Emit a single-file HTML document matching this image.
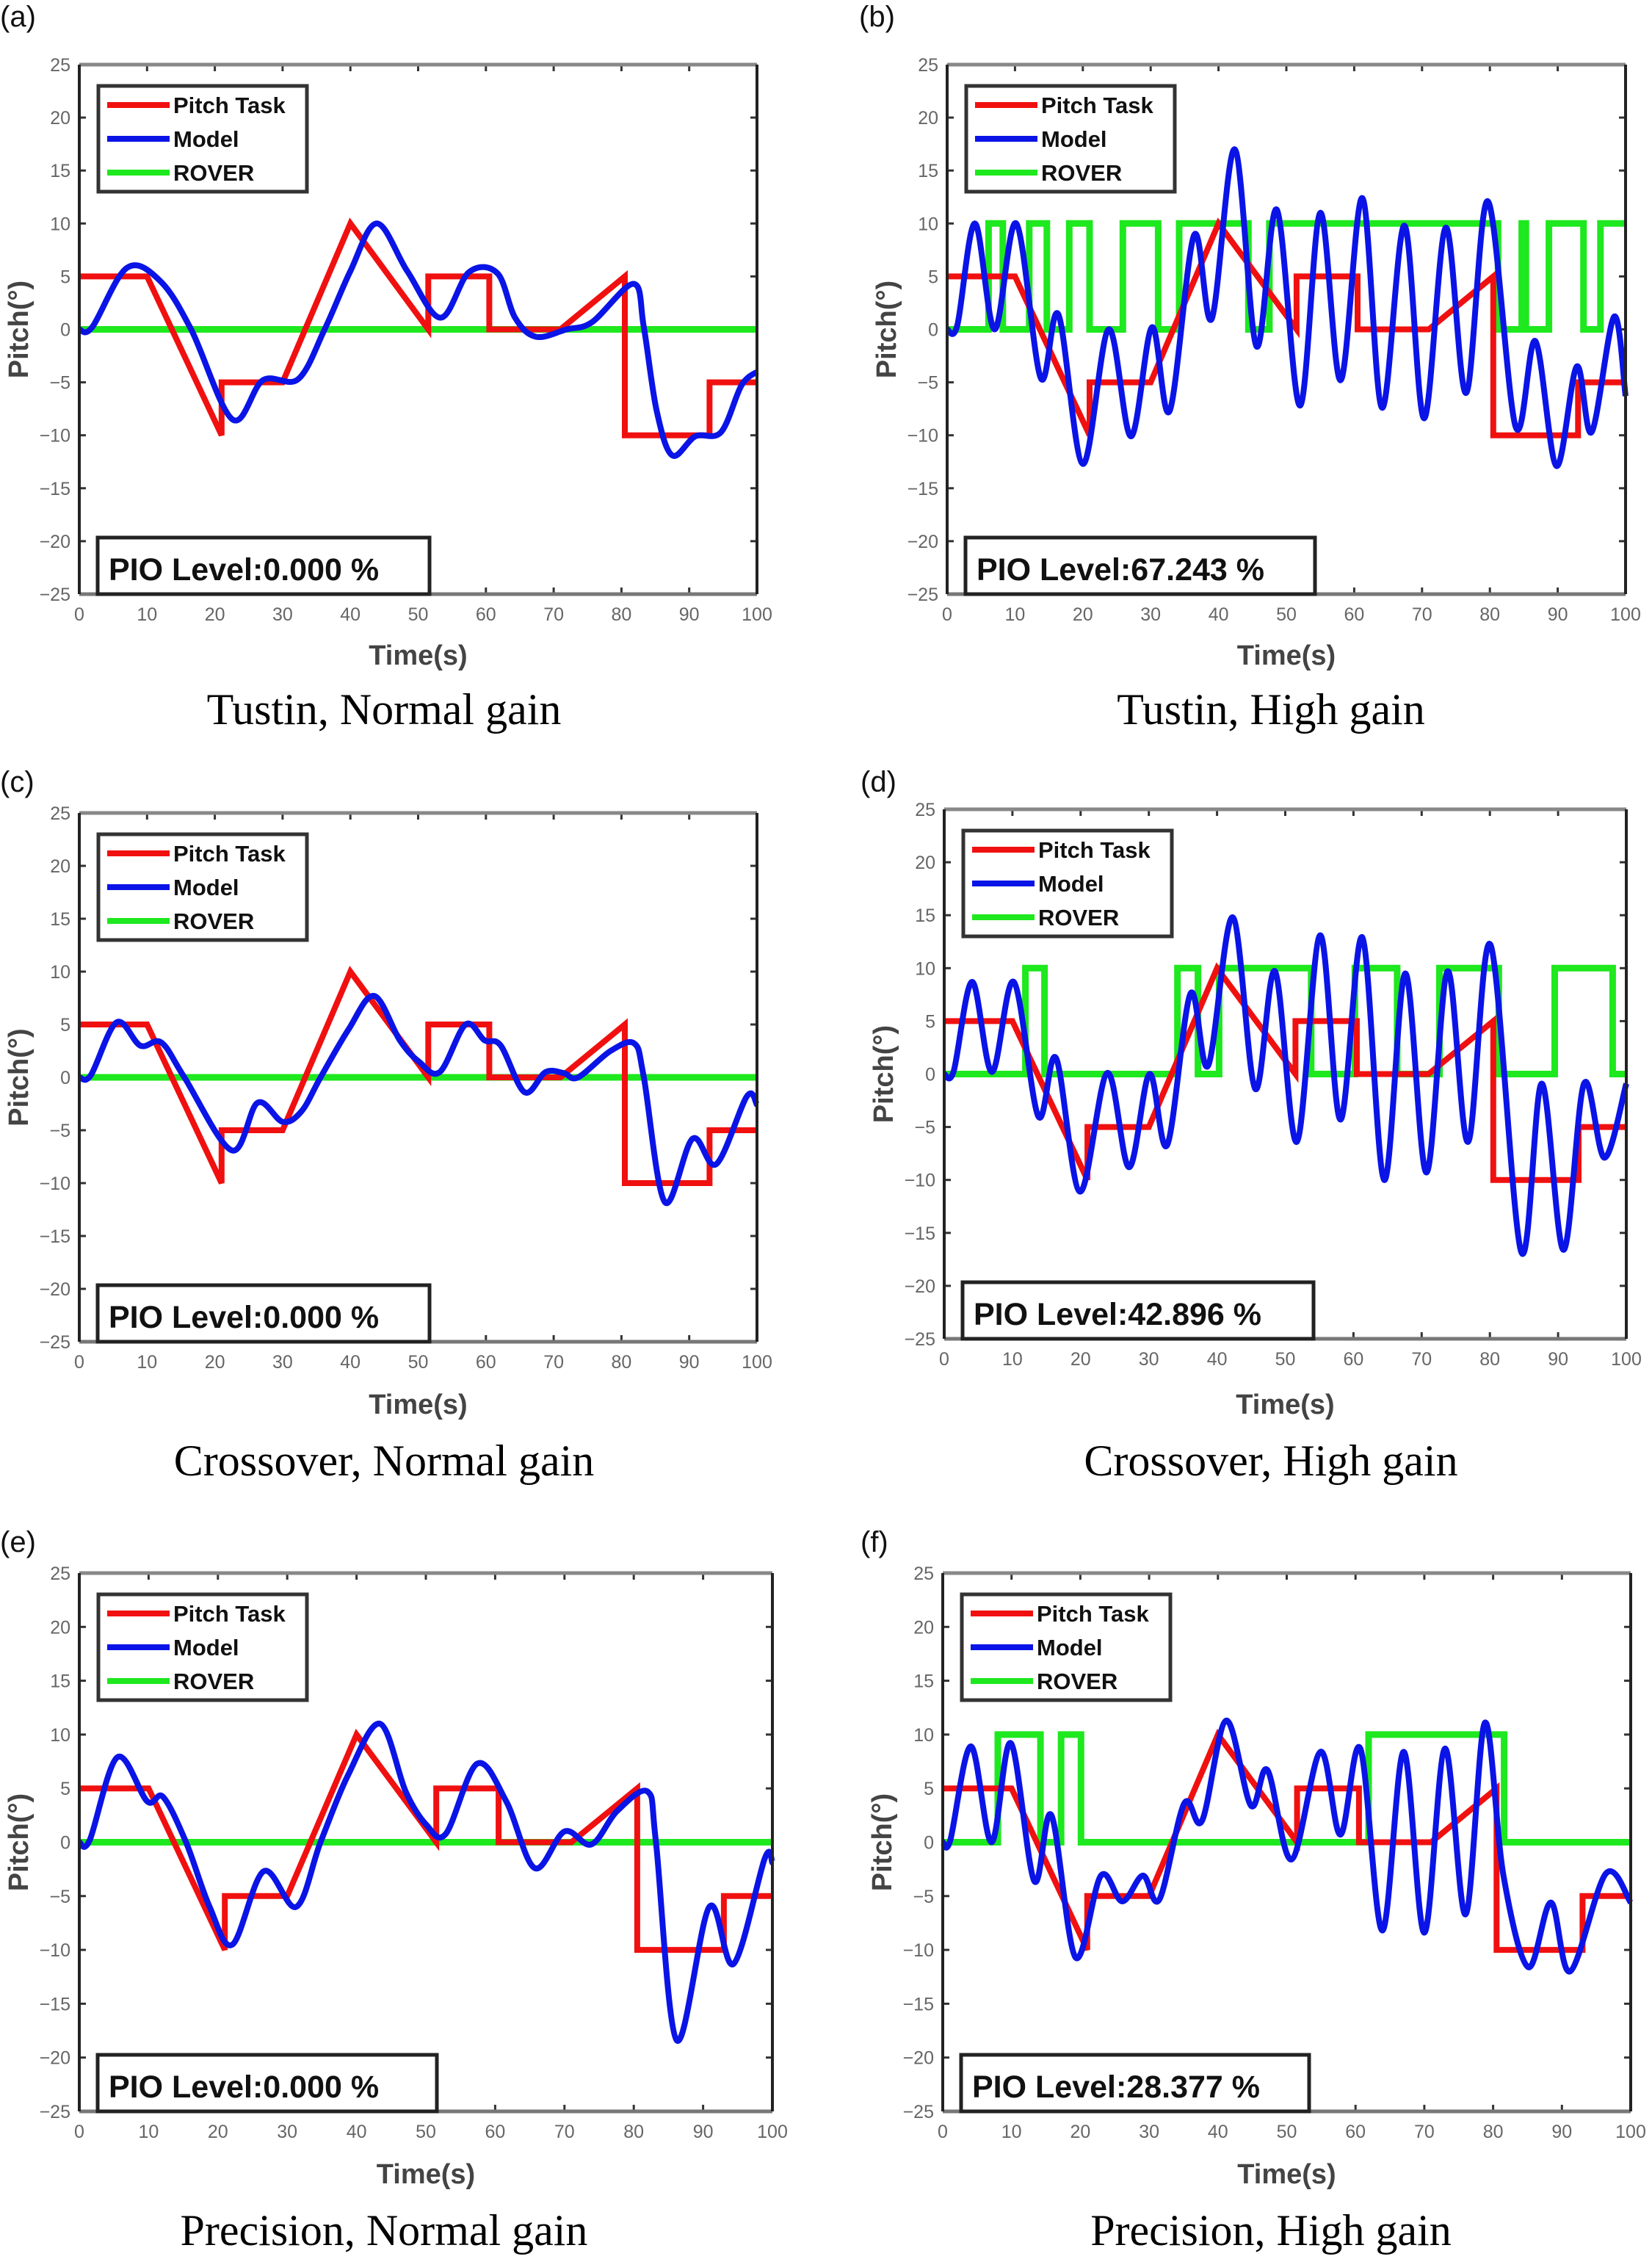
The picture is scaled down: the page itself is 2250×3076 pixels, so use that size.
<!DOCTYPE html>
<html><head><meta charset="utf-8"><style>
html,body{margin:0;padding:0;background:#fff;}
svg{display:block;}
</style></head><body>
<svg id="fig" xmlns="http://www.w3.org/2000/svg" width="2250" height="3076" viewBox="0 0 2250 3076"></svg>
<script>
// ---- shared pitch task ----
const taskT = [0,10,21,21,30,40,51.5,51.5,60.5,60.5,71,80.5,80.5,93,93,100];
const taskV = [5,5,-10,-5,-5,10,0,5,5,0,0,5,-10,-10,-5,-5];
const yTicks = [25,20,15,10,5,0,-5,-10,-15,-20,-25];
const xTicks = [0,10,20,30,40,50,60,70,80,90,100];
// ---- model series (a..f) ----
const modelAT = [0,1.9,7,11.9,16.5,22.6,27.1,32.3,36.2,40,43.9,48.4,53.3,57.5,61.7,64.3,67.4,71.9,75.7,81.8,83.3,85.2,87.5,90.9,94.7,97.7,100];
const modelAV = [0,0.2,5.8,4.6,0,-8.5,-4.8,-4.7,0,5.5,10,5.5,1.1,5.4,5.3,1.1,-0.7,0,0.7,4.3,0.2,-7.7,-11.9,-10.1,-9.7,-5.3,-4];
const modelBT = [0,1.5,4.1,7,10.2,13.8,16.4,20,23.8,27.1,30.2,32.8,36.4,39,42.4,45.6,48.6,52,55,58,61.2,64.1,67.4,70.3,73.5,76.5,79.7,83.8,86.7,89.8,92.8,95,98.3,100];
const modelBV = [0,0.4,10,0,10,-4.6,1.4,-12.7,0,-10.1,0.2,-7.7,8.9,1,17,-1.6,11.3,-7.2,11,-4.8,12.4,-7.4,9.8,-8.4,9.6,-6,12.1,-9.2,-1.1,-12.9,-3.5,-9.7,1.2,-6.3];
const modelCT = [0,1.7,5.5,9,12.1,15.5,22.5,26.3,30,32.8,35.6,39.7,43.5,47.3,50.1,53.2,57,59.8,62.2,65.7,68.8,71.5,73.6,78.4,81.9,83.3,86.4,90.5,94,98.5,100];
const modelCV = [0,0.2,5.2,3,3.3,0,-6.9,-2.4,-4.2,-3.2,0,4.5,7.7,3.5,1.5,0.5,5,3.5,3,-1.4,0.5,0.4,0,2.5,3.2,0,-11.8,-5.8,-8.2,-1.8,-2.6];
const modelDT = [0,1.4,4.1,7,10.2,13.8,16.4,19.9,23.9,27.1,30.1,32.7,36.1,38.7,42.3,45.6,48.5,51.7,55.1,58.1,61.3,64.5,67.6,70.7,73.8,76.8,80.1,84.6,87.6,90.8,93.8,96.8,100];
const modelDV = [0,0.3,8.7,0.2,8.7,-4,1.5,-11.1,0.1,-8.8,0,-6.7,7.6,0.8,14.8,-1.4,9.7,-6.4,13.1,-4.3,12.9,-10,9.5,-9.3,9.7,-6.4,12.2,-16.8,-0.9,-16.6,-0.9,-7.9,-0.9];
const modelET = [0,1.5,5.5,9.8,12.1,15.4,18.8,22.1,26.6,31.3,34.8,38.9,43.4,47.1,50.1,52.9,57.4,61.6,65.7,70,73.9,77.6,82,83.2,86.2,90.9,94.4,98.9,100];
const modelEV = [0,0.2,7.9,3.8,4.2,0,-6,-9.5,-2.7,-6,0,6.4,11,4.7,1.6,0.8,7.3,3.8,-2.4,1,-0.2,2.9,4.7,0,-18.4,-6,-11.3,-1.5,-1.9];
const modelFT = [0,1.1,4.1,7.1,9.9,13.3,15.8,19.3,23,26.1,29.1,31.5,35.1,37.7,41.2,44.8,47.2,50.7,54.9,57.8,60.7,63.9,67,70,73,76,78.8,81.5,85.1,88.4,91.2,96.4,100];
const modelFV = [0,0.2,8.9,0,9.2,-3.6,2.5,-10.7,-3.1,-5.5,-3.1,-5.3,3.6,2,11.3,3.4,6.7,-1.6,8.4,0.7,8.7,-8.2,8.4,-8.4,8.7,-6.7,11.1,-3.1,-11.6,-5.6,-12,-2.9,-5.6];
// ---- ROVER switching times (starts at 0, toggles 0<->10) ----
const roverAT = [];
const roverBT = [6.1,8.2,12.1,14.7,18,21,25.9,31.1,34.2,44.4,47.5,81.2,84.7,85.3,88.7,93.8,96.3];
const roverCT = [];
const roverDT = [11.9,14.7,34.2,37.2,40.3,53.8,60.2,66.4,72.6,81.3,89.5,98];
const roverET = [];
const roverFT = [8,14.2,17.2,20.1,61.9,81.6];
const pioValues = ["0.000","67.243","0.000","42.896","0.000","28.377"];
const captions = ["Tustin, Normal gain","Tustin, High gain","Crossover, Normal gain","Crossover, High gain","Precision, Normal gain","Precision, High gain"];

const panels = [
 {id:'a',x0:108,x1:1031,y0:88,y1:809,lx:0,ly:36,capX:523,capY:986,timeY:905,mt:modelAT,mv:modelAV,rv:roverAT,pw:452},
 {id:'b',x0:1290,x1:2214,y0:88,y1:809,lx:1170,ly:36,capX:1731,capY:986,timeY:905,mt:modelBT,mv:modelBV,rv:roverBT,pw:476},
 {id:'c',x0:108,x1:1031,y0:1107,y1:1827,lx:0,ly:1078,capX:523,capY:2009,timeY:1925,mt:modelCT,mv:modelCV,rv:roverCT,pw:452},
 {id:'d',x0:1286,x1:2215,y0:1102,y1:1823,lx:1172,ly:1078,capX:1731,capY:2009,timeY:1925,mt:modelDT,mv:modelDV,rv:roverDT,pw:478},
 {id:'e',x0:108,x1:1052,y0:2142,y1:2875,lx:0,ly:2113,capX:523,capY:3057,timeY:2973,mt:modelET,mv:modelEV,rv:roverET,pw:462},
 {id:'f',x0:1284,x1:2221,y0:2142,y1:2875,lx:1172,ly:2113,capX:1731,capY:3057,timeY:2973,mt:modelFT,mv:modelFV,rv:roverFT,pw:474}
];
const NS='http://www.w3.org/2000/svg';
const svg=document.getElementById('fig');
function mk(tag,attrs,parent){const e=document.createElementNS(NS,tag);for(const k in attrs)e.setAttribute(k,attrs[k]);(parent||svg).appendChild(e);return e;}
function smooth(pts){
  let d='M'+pts[0][0].toFixed(1)+','+pts[0][1].toFixed(1);
  for(let i=0;i<pts.length-1;i++){
    const p0=pts[Math.max(0,i-1)],p1=pts[i],p2=pts[i+1],p3=pts[Math.min(pts.length-1,i+2)];
    const c1x=p1[0]+(p2[0]-p0[0])/6,c1y=p1[1]+(p2[1]-p0[1])/6;
    const c2x=p2[0]-(p3[0]-p1[0])/6,c2y=p2[1]-(p3[1]-p1[1])/6;
    d+=' C'+c1x.toFixed(1)+','+c1y.toFixed(1)+' '+c2x.toFixed(1)+','+c2y.toFixed(1)+' '+p2[0].toFixed(1)+','+p2[1].toFixed(1);
  }
  return d;
}
panels.forEach((p,idx)=>{
  const g=mk('g',{});
  
  
  const X=t=>p.x0+(p.x1-p.x0)*t/100;
  const Y=v=>p.y0+(p.y1-p.y0)*(25-v)/50;
  const cx=(p.x0+p.x1)/2, cy=(p.y0+p.y1)/2;
  const lt=mk('text',{x:p.lx,y:p.ly,'font-family':'Liberation Sans, sans-serif','font-size':40,fill:'#111'},g);
  lt.textContent='('+p.id+')';
  
  
  mk('rect',{x:p.x0,y:p.y0,width:p.x1-p.x0,height:p.y1-p.y0,fill:'#fff',stroke:'none'},g);
  yTicks.forEach(v=>{
    const y=Y(v);
    mk('line',{x1:p.x0,x2:p.x0+9,y1:y,y2:y,stroke:'#333','stroke-width':3},g);
    mk('line',{x1:p.x1-9,x2:p.x1,y1:y,y2:y,stroke:'#333','stroke-width':3},g);
    const t=mk('text',{x:p.x0-12,y:y+9,'text-anchor':'end','font-family':'Liberation Sans, sans-serif','font-size':25,fill:'#666'},g);
    t.textContent=(v<0?'\u2212'+(-v):''+v);
    
    
  });
  xTicks.forEach(v=>{
    const x=X(v);
    mk('line',{x1:x,x2:x,y1:p.y1,y2:p.y1-9,stroke:'#333','stroke-width':3},g);
    mk('line',{x1:x,x2:x,y1:p.y0,y2:p.y0+9,stroke:'#333','stroke-width':3},g);
    const t=mk('text',{x:x,y:p.y1+36,'text-anchor':'middle','font-family':'Liberation Sans, sans-serif','font-size':25,fill:'#666'},g);
    t.textContent=''+v;
    
    
  });
  let pts=[[X(0),Y(0)]];let cur=0;
  p.rv.forEach(tt=>{pts.push([X(tt),Y(cur)]);cur=cur?0:10;pts.push([X(tt),Y(cur)]);});
  pts.push([X(100),Y(cur)]);
  const rov=mk('path',{d:'M'+pts.map(q=>q[0].toFixed(1)+','+q[1].toFixed(1)).join(' L'),fill:'none',stroke:'#1ee81e','stroke-width':9,'stroke-linejoin':'miter'},g);
  
  
  const tp=taskT.map((t,i)=>X(t).toFixed(1)+','+Y(taskV[i]).toFixed(1));
  const task=mk('path',{d:'M'+tp.join(' L'),fill:'none',stroke:'#f01010','stroke-width':8},g);
  
  
  const mp=p.mt.map((t,i)=>[X(t),Y(p.mv[i])]);
  const mod=mk('path',{d:smooth(mp),fill:'none',stroke:'#0a14e6','stroke-width':8,'stroke-linejoin':'round'},g);
  
  
  mk('line',{x1:p.x0,x2:p.x1,y1:p.y0,y2:p.y0,stroke:'#888','stroke-width':5},g);
  mk('line',{x1:p.x0,x2:p.x1,y1:p.y1,y2:p.y1,stroke:'#777','stroke-width':5},g);
  mk('line',{x1:p.x0,x2:p.x0,y1:p.y0,y2:p.y1,stroke:'#222','stroke-width':4},g);
  mk('line',{x1:p.x1,x2:p.x1,y1:p.y0,y2:p.y1,stroke:'#222','stroke-width':4},g);
  const lg=mk('g',{},g);
  
  
  const lx=p.x0+26, ly=p.y0+29;
  mk('rect',{x:lx,y:ly,width:284,height:144,fill:'#fff',stroke:'#333','stroke-width':5},lg);
  const ents=[['Pitch Task','#f01010'],['Model','#0a14e6'],['ROVER','#1ee81e']];
  ents.forEach((e,i)=>{
    const yy=ly+26+i*46;
    mk('line',{x1:lx+12,x2:lx+97,y1:yy,y2:yy,stroke:e[1],'stroke-width':8},lg);
    const t=mk('text',{x:lx+102,y:yy+11,'font-family':'Liberation Sans, sans-serif','font-size':31,'font-weight':'bold',fill:'#111'},lg);
    t.textContent=e[0];
    
    
  });
  const pb=mk('g',{},g);
  
  
  mk('rect',{x:p.x0+25,y:p.y1-77,width:p.pw,height:77,fill:'#fff',stroke:'#222','stroke-width':5},pb);
  const pt=mk('text',{x:p.x0+40,y:p.y1-19,'font-family':'Liberation Sans, sans-serif','font-size':43,'font-weight':'bold',fill:'#111'},pb);
  pt.textContent='PIO Level:'+pioValues[idx]+' %';
  const tl=mk('text',{x:cx,y:p.timeY,'text-anchor':'middle','font-family':'Liberation Sans, sans-serif','font-size':38,'font-weight':'bold',fill:'#444'},g);
  tl.textContent='Time(s)';
  
  
  const yl=mk('text',{x:0,y:0,'text-anchor':'middle','font-family':'Liberation Sans, sans-serif','font-size':38,'font-weight':'bold',fill:'#444',transform:'translate('+(p.x0-70)+','+cy+') rotate(-90)'},g);
  yl.textContent='Pitch(\u00b0)';
  
  
  const cap=mk('text',{x:p.capX,y:p.capY,'text-anchor':'middle','font-family':'Liberation Serif, serif','font-size':60,fill:'#000'},g);
  cap.textContent=captions[idx];
  
  
});
</script>
</body></html>
